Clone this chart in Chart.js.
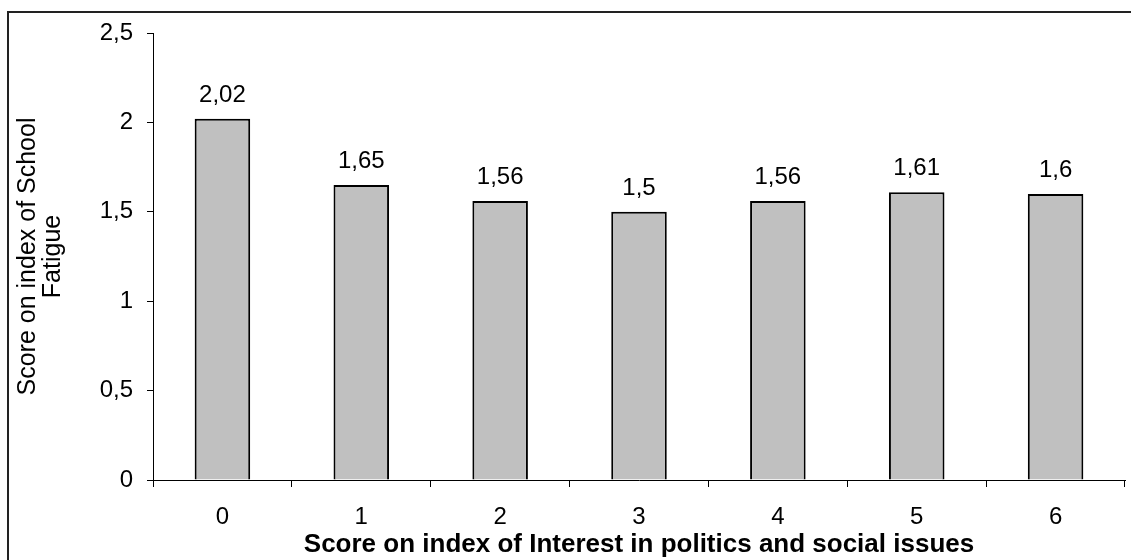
<!DOCTYPE html>
<html>
<head>
<meta charset="utf-8">
<script src="https://cdn.jsdelivr.net/npm/chart.js@4/dist/chart.umd.min.js"></script>
<style>
  html, body { margin: 0; padding: 0; background: #fff; }
  #frame { position: absolute; left: 7px; top: 11px; width: 2000px; height: 2000px;
           border-left: 2px solid #222; border-top: 2px solid #222; }
  #wrap { position: absolute; left: 0; top: 0; width: 1131px; height: 560px; }
</style>
</head>
<body>
<div id="frame"></div>
<div id="wrap"><canvas id="canvas-1" width="1131" height="560"></canvas></div>
<script>
const categories = ['0', '1', '2', '3', '4', '5', '6']
const fatigueScores = [2.02, 1.65, 1.56, 1.5, 1.56, 1.61, 1.6]
const yTicks = [0, 0.5, 1, 1.5, 2, 2.5]

const FONT = "'Liberation Sans', Arial, sans-serif"
const comma = v => String(v).replace('.', ',')

// value labels above each bar
const barLabels = {
  id: 'barLabels',
  afterDatasetsDraw(chart) {
    const ctx = chart.ctx
    const meta = chart.getDatasetMeta(0)
    ctx.save()
    ctx.font = '24px ' + FONT
    ctx.fillStyle = '#000'
    ctx.textAlign = 'center'
    ctx.textBaseline = 'alphabetic'
    meta.data.forEach((bar, i) => {
      ctx.fillText(comma(fatigueScores[i]), bar.x, bar.y - 17)
    })
    ctx.restore()
  }
}

Chart.defaults.font.family = FONT
Chart.defaults.color = '#000'

barChart = new Chart(document.getElementById('canvas-1'), {
  type: 'bar',
  data: {
    labels: categories,
    datasets: [{
      data: fatigueScores,
      backgroundColor: '#c0c0c0',
      borderColor: '#000',
      borderWidth: 2,
      barPercentage: 0.4,
      categoryPercentage: 1
    }]
  },
  plugins: [barLabels],
  options: {
    responsive: false,
    animation: false,
    layout: { padding: { top: 33, right: 6, bottom: 0, left: 0 } },
    plugins: { legend: { display: false }, tooltip: { enabled: false } },
    scales: {
      x: {
        grid: { offset: true, drawOnChartArea: false, drawTicks: true, tickLength: 7, color: '#000' },
        border: { display: true, color: '#000', width: 1 },
        ticks: { font: { size: 24 }, padding: 16, color: '#000' },
        title: {
          display: true,
          text: 'Score on index of Interest in politics and social issues',
          font: { size: 26, weight: 'bold', lineHeight: 1 },
          padding: { top: 0, bottom: 2 },
          color: '#000'
        },
        afterFit: s => { s.height = 80 }
      },
      y: {
        min: 0,
        max: 2.5,
        afterBuildTicks: s => { s.ticks = yTicks.map(v => ({ value: v })) },
        grid: { drawOnChartArea: false, drawTicks: true, tickLength: 6, color: '#000' },
        border: { display: true, color: '#000', width: 1 },
        ticks: { font: { size: 24 }, padding: 14, color: '#000', callback: v => comma(v) },
        title: {
          display: true,
          text: ['Score on index of School', 'Fatigue'],
          font: { size: 25, lineHeight: 1 },
          padding: { top: 16, bottom: 0 },
          color: '#000'
        },
        afterFit: s => { s.width = 153 }
      }
    }
  }
})
</script>
</body>
</html>
